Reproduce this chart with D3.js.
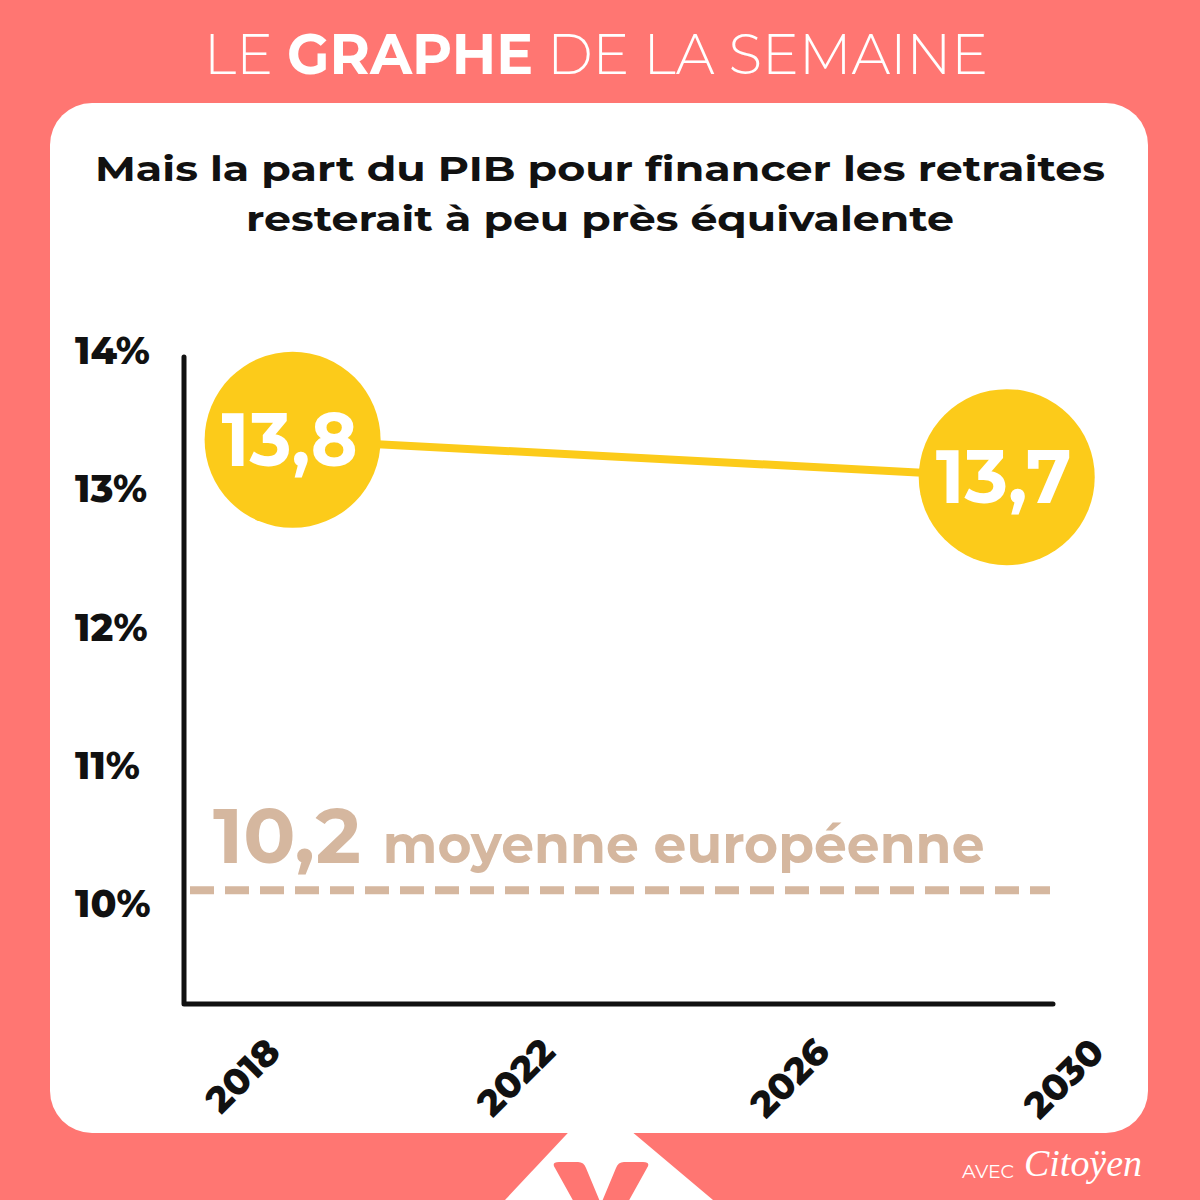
<!DOCTYPE html>
<html>
<head>
<meta charset="utf-8">
<script src="https://cdn.jsdelivr.net/npm/d3@7"></script>
<style>
  html, body { margin: 0; padding: 0; background: #FF7672; }
  svg { display: block; }
</style>
</head>
<body>
<svg id="chart" width="1200" height="1200"></svg>
<script>
// ---- Data ----
const years = [2018, 2022, 2026, 2030];                 // x tick labels
const yTicks = [10, 11, 12, 13, 14];                    // y tick values (%)
const pointYears = [2018.3, 2028.7];                    // position of the two points
const pointValues = [13.35, 13.08];                     // plotted level of the two points
const pointLabels = ["13,8", "13,7"];                   // text written in the circles
const euroAverage = [10.09];                            // dashed reference level
const euroLabelValue = "10,2";
const euroLabelText = "moyenne européenne";
const headerParts = [["LE ", 300], ["GRAPHE", 700], [" DE LA SEMAINE", 300]];
const subtitleLines = ["Mais la part du PIB pour financer les retraites",
                       "resterait à peu près équivalente"];

// ---- Layout / style ----
const coral = "#FF7672", yellow = "#FCCB1A", tan = "#D5B79F", ink = "#111";
const FONT = "Montserrat, Inter, 'Open Sans', sans-serif";
const plot = { left: 184, right: 1053, top: 357, bottom: 1004 };

const svg = d3.select("#chart");

// background + card
svg.append("rect").attr("width", 1200).attr("height", 1200).attr("fill", coral);
svg.append("rect").attr("x", 50).attr("y", 103).attr("width", 1098).attr("height", 1030)
  .attr("rx", 42).attr("ry", 42).attr("fill", "#fff");
// white notch under the card + coral logo
svg.append("path").attr("d", "M580,1120 L618,1120 L713,1200 L505,1200 Z").attr("fill", "#fff");
svg.append("path")
  .attr("d", "M555,1168 Q551,1162 559,1162 L578,1162 Q584,1162 586,1168 L601,1204 L616,1168 Q618,1162 624,1162 L643,1162 Q651,1162 647,1168 L627,1204 L575,1204 Z")
  .attr("fill", coral);

// header
const head = svg.append("text").attr("x", 596).attr("y", 74).attr("text-anchor", "middle")
  .attr("font-family", FONT).attr("font-size", 56).attr("fill", "#fff")
  .attr("textLength", 784).attr("lengthAdjust", "spacingAndGlyphs");
head.selectAll("tspan").data(headerParts).join("tspan")
  .attr("font-weight", d => d[1]).text(d => d[0]);

// subtitle
svg.selectAll("text.sub").data(subtitleLines).join("text").attr("class", "sub")
  .attr("x", 600).attr("y", (d, i) => 181 + i * 50).attr("text-anchor", "middle")
  .attr("font-family", FONT).attr("font-weight", 700).attr("font-size", 35).attr("fill", ink)
  .attr("textLength", (d, i) => i === 0 ? 1010 : 708).attr("lengthAdjust", "spacingAndGlyphs")
  .text(d => d);

// scales
const y = d3.scaleLinear().domain([9.26, 14]).range([1005, 350]);
const x = d3.scaleLinear().domain([2018, 2030]).range([272, 1096]);

// y axis labels
const yAxis = svg.append("g").attr("transform", "translate(75,0)")
  .call(d3.axisRight(y).tickValues(yTicks).tickSize(0).tickPadding(0).tickFormat(d => d + "%"));
yAxis.select(".domain").remove();
yAxis.selectAll("text").attr("font-family", FONT).attr("font-weight", 800)
  .attr("font-size", 38).attr("fill", ink).attr("dy", "0.36em");

// x axis labels
const xAxis = svg.append("g").attr("transform", "translate(0,1048)")
  .call(d3.axisBottom(x).tickValues(years).tickSize(0).tickPadding(0).tickFormat(d3.format("d")));
xAxis.select(".domain").remove();
xAxis.selectAll("text").attr("font-family", FONT).attr("font-weight", 800)
  .attr("font-size", 37).attr("fill", ink).attr("text-anchor", "end")
  .attr("dy", 0).attr("transform", "translate(10,6) rotate(-45)");

// axis lines
svg.append("path")
  .attr("d", d3.line()([[plot.left, plot.top], [plot.left, plot.bottom], [plot.right, plot.bottom]]))
  .attr("fill", "none").attr("stroke", ink).attr("stroke-width", 5)
  .attr("stroke-linecap", "round").attr("stroke-linejoin", "round");

// european average dashed line
svg.selectAll("line.avg").data(euroAverage).join("line").attr("class", "avg")
  .attr("x1", plot.left + 6).attr("x2", plot.right - 3)
  .attr("y1", d => y(d)).attr("y2", d => y(d))
  .attr("stroke", tan).attr("stroke-width", 8).attr("stroke-dasharray", "24 11");
const avgLabel = svg.append("text").attr("x", 213).attr("y", y(euroAverage[0]) - 27)
  .attr("font-family", FONT).attr("font-weight", 700).attr("fill", tan);
avgLabel.append("tspan").attr("font-size", 77).text(euroLabelValue);
avgLabel.append("tspan").attr("font-size", 52).attr("dx", 22).text(euroLabelText);

// line between the two points
const pts = pointYears.map((yr, i) => [x(yr), y(pointValues[i])]);
svg.append("path").attr("d", d3.line()(pts)).attr("fill", "none")
  .attr("stroke", yellow).attr("stroke-width", 8);

svg.selectAll("circle.pt").data(pts).join("circle").attr("class", "pt")
  .attr("cx", d => d[0]).attr("cy", d => d[1]).attr("r", 88).attr("fill", yellow);

svg.selectAll("text.pt").data(pts).join("text").attr("class", "pt")
  .attr("x", d => d[0] - 3).attr("y", d => d[1] + 26).attr("text-anchor", "middle")
  .attr("font-family", FONT).attr("font-weight", 700).attr("font-size", 75).attr("fill", "#fff")
  .attr("textLength", 136).attr("lengthAdjust", "spacingAndGlyphs")
  .text((d, i) => pointLabels[i]);

// signature
svg.append("text").attr("x", 962).attr("y", 1178).attr("font-family", FONT)
  .attr("font-size", 19).attr("fill", "#fff").text("AVEC");
svg.append("text").attr("x", 1024).attr("y", 1176).attr("font-family", "'Liberation Serif', 'DejaVu Serif', serif")
  .attr("font-style", "italic").attr("font-size", 38).attr("fill", "#fff")
  .attr("textLength", 118).attr("lengthAdjust", "spacingAndGlyphs").text("Citoÿen");
</script>
</body>
</html>
